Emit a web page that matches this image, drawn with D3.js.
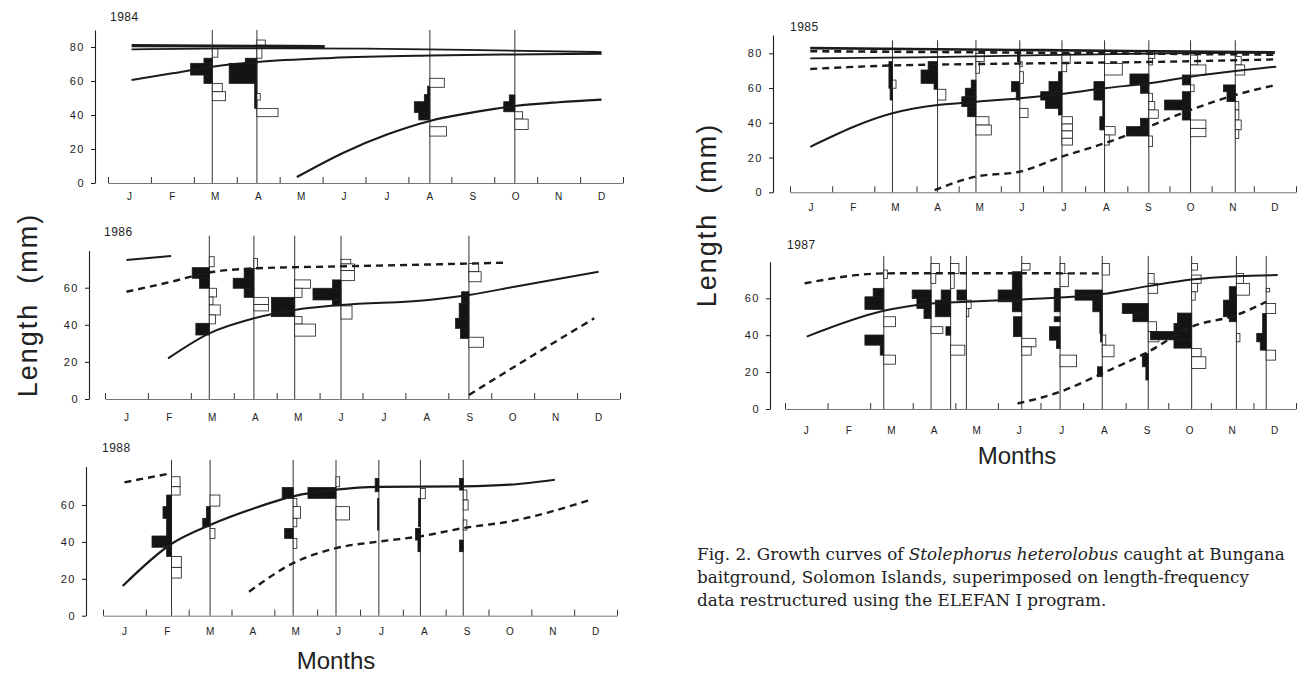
<!DOCTYPE html>
<html>
<head>
<meta charset="utf-8">
<script src="https://cdn.jsdelivr.net/npm/d3@7"></script>
<style>
  body { margin: 0; background: #fff; overflow: hidden; }
  svg text { fill: #222; }
</style>
</head>
<body>
<svg id="fig" width="1299" height="674"></svg>
<script>
// month letters under each axis
const monthLabels = ["J", "F", "M", "A", "M", "J", "J", "A", "S", "O", "N", "D"];
const ticksTo80 = [0, 20, 40, 60, 80];
const ticksTo60 = [0, 20, 40, 60];

// length-frequency samples: m = sample date (months from 1 Jan),
// bins = [low mm, high mm, score]; score > 0 black (left), < 0 white (right)
const hist1984 = [
  { m: 2.43, bins: [[70.4, 73.4, 7.5], [63.5, 70.4, 19.5], [58.6, 63.5, 7.5], [74, 79.2, -5], [53.7, 58.6, -9], [48.4, 53.7, -12]] },
  { m: 3.47, bins: [[70.4, 73.4, 10.5], [58.6, 70.4, 25], [48.8, 58.6, 2], [43.9, 48.8, 2], [80.2, 84.1, -7.5], [73.4, 80.2, -4.5], [48.8, 52.6, -3], [39, 43.9, -19]] },
  { m: 7.5, bins: [[52, 57, 2], [47.8, 52, 5], [41.5, 47.8, 14], [37.1, 41.5, 10], [56.3, 61.6, -13], [27.6, 33.1, -15]] },
  { m: 9.48, bins: [[47.8, 51.8, 5], [41.9, 47.8, 10], [37.6, 41.9, -7], [31.5, 37.6, -12]] }
];
const hist1986 = [
  { m: 2.43, bins: [[65.1, 70.8, 14], [59.7, 65.1, 8], [34.5, 40.8, 11], [71.3, 76.7, -4], [55, 59.7, -6], [50.7, 55, -3], [45.3, 50.7, -9], [40.5, 45.3, -5]] },
  { m: 3.47, bins: [[65.1, 70.4, 8], [59.7, 65.1, 17], [54.8, 59.7, 8], [70.4, 75.8, -3], [51, 54.8, -12], [47.5, 51, -12]] },
  { m: 4.42, bins: [[44.4, 54.8, 19], [59.7, 64.2, -13], [54.8, 59.7, -6], [40.4, 44.4, -6], [33.9, 40.4, -17]] },
  { m: 5.5, bins: [[59.7, 64.2, 7], [53.4, 59.7, 23], [50.2, 53.4, 7], [72.8, 75.3, -8], [69.2, 72.8, -11], [63.8, 69.2, -11], [43.1, 50.2, -9]] },
  { m: 8.48, bins: [[51.6, 57.8, 6], [43.5, 51.6, 8], [38.1, 43.5, 11], [32.7, 38.1, 7], [68.6, 73.1, -8], [63.2, 68.6, -10], [27.9, 33.3, -12]] }
];
const hist1988 = [
  { m: 1.6, bins: [[59.1, 65.4, 4], [52.8, 59.1, 7], [48.2, 52.8, 4], [43.2, 48.2, 4], [37.1, 43.2, 16], [32.1, 37.1, 4], [69.9, 75.3, -7], [65.4, 69.9, -7], [26.2, 32.1, -8], [20.4, 26.2, -8]] },
  { m: 2.5, bins: [[52.8, 59.1, 3], [48.2, 52.8, 6], [59.4, 65.4, -8], [41.9, 47.3, -4]] },
  { m: 4.44, bins: [[63.6, 69.5, 9], [41.9, 47.3, 7], [59.1, 63.6, -3], [52.8, 59.1, -6], [48.2, 52.8, -3], [36.5, 41.9, -3]] },
  { m: 5.44, bins: [[63.6, 69.5, 23], [69.9, 75.3, -3], [51.9, 59.1, -11]] },
  { m: 6.44, bins: [[67.2, 74.4, 3], [55.5, 63.6, 1], [46.4, 55.5, 1]] },
  { m: 7.41, bins: [[48.2, 63.6, 1.5], [41, 47.3, 4], [34.7, 41, 2], [63.4, 69, -4]] },
  { m: 8.41, bins: [[68.1, 74.4, 3], [34.7, 41, 3], [62.7, 68.1, -3], [57.3, 62.7, -4], [46.4, 51.9, -3]] }
];
const hist1985 = [
  { m: 2.43, bins: [[59.9, 75.2, 3], [53.1, 59.9, 2], [59.9, 64.6, -3]] },
  { m: 3.5, bins: [[70.4, 75.2, 8], [62.7, 70.4, 14], [59.3, 62.7, 3], [53.1, 59.3, -7]] },
  { m: 4.41, bins: [[59.9, 64.6, 4], [55, 59.9, 9], [49.3, 55, 12], [43.5, 49.3, 7], [75.2, 80, -7], [68.5, 75.2, -3], [38.7, 43.5, -11], [33, 38.7, -13]] },
  { m: 5.45, bins: [[75.2, 81.9, 2], [57.9, 63.7, 7], [53.1, 57.9, 3], [72.3, 75.2, -2], [62.7, 69.4, -3], [43.1, 48.3, -7]] },
  { m: 6.45, bins: [[63.7, 69.4, 3], [57.9, 63.7, 11], [53.1, 57.9, 18], [48.3, 53.1, 14], [44.5, 48.3, 3], [74.2, 80, -7], [69.4, 74.2, -4], [39.3, 43.5, -9], [35.3, 39.3, -9], [31.1, 35.3, -9], [27.2, 31.1, -9]] },
  { m: 7.46, bins: [[53.1, 63.7, 9], [43.5, 53.1, 1.5], [35.9, 43.5, 4], [67.5, 74.2, -15], [33, 37.8, -9], [27.2, 33, -4]] },
  { m: 8.51, bins: [[61.8, 68.1, 16], [57, 61.8, 7], [37.8, 42.6, 7], [32.4, 37.8, 19], [77.1, 81, -5], [73.3, 77.1, -3], [52.2, 57, -3], [47.4, 52.2, -5], [42.6, 47.4, -8], [26.3, 32.4, -3]] },
  { m: 9.5, bins: [[61.8, 67.5, 7], [53.1, 57.9, 7], [47.4, 53.1, 22], [41.6, 47.4, 7], [73.3, 79, -6], [67.5, 73.3, -13], [57.9, 61.8, -3], [36.8, 41.6, -13], [32, 36.8, -13]] },
  { m: 10.56, bins: [[57.9, 61.8, 10], [52.2, 57.9, 7], [73.3, 78.1, -5], [67.5, 73.3, -8], [47.4, 52.2, -3], [41.6, 47.4, -3], [36, 41.6, -5], [31, 36, -3]] }
];
const hist1987 = [
  { m: 2.32, bins: [[60.8, 65.4, 9], [54, 60.8, 16], [34.6, 40.1, 16], [29.2, 34.6, 3], [70.8, 75.3, -3], [44.6, 50, -10], [24.3, 29.2, -10]] },
  { m: 3.43, bins: [[59.9, 64.5, 16], [54.5, 59.9, 12], [49.1, 54.5, 6], [73.5, 78.9, -7], [68.1, 73.5, -4], [41, 44.6, -10]] },
  { m: 3.89, bins: [[59, 64.5, 8], [50, 59, 13], [40, 44.6, 4], [73.5, 78.9, -7], [65.4, 73.5, -3], [29.2, 34.6, -12]] },
  { m: 4.26, bins: [[59, 64.5, 8], [54.5, 59, -4], [50, 54.5, -2]] },
  { m: 5.56, bins: [[64.5, 74.4, 8], [58.1, 64.5, 20], [52.7, 58.1, 8], [39.2, 50, 7], [75.3, 78.9, -7], [33.7, 38.3, -12], [29.2, 33.7, -8]] },
  { m: 6.46, bins: [[52.7, 65.4, 5], [47.3, 50, 5], [37.3, 44.6, 9], [32.8, 37.3, 3], [73.5, 78.9, -4], [66.3, 73.5, -7], [22.9, 29.2, -14]] },
  { m: 7.45, bins: [[59, 64.5, 23], [52.7, 59, 8], [41, 52.7, 2], [36.4, 41, 1.5], [17.5, 22.9, 4], [72.6, 78.9, -6], [34.6, 40.1, -3], [28.3, 34.6, -10]] },
  { m: 8.53, bins: [[51.8, 57.2, 22], [47.3, 51.8, 13], [22.9, 30.1, 5], [15.7, 22.9, 2], [68.1, 73.5, -5], [62.7, 68.1, -8], [41.9, 47.3, -7], [36.4, 41.9, -9]] },
  { m: 9.55, bins: [[46.4, 52, 12], [42, 46.4, 15], [37.5, 42, 35], [33, 37.5, 15], [75.3, 78.9, -5], [68.1, 72.6, -8], [63.5, 68.1, -5], [59, 63.5, -3], [28.3, 32.8, -8], [22, 28.3, -12]] },
  { m: 10.6, bins: [[59, 66.3, 6], [50, 59, 11], [47.3, 50, 6], [68.1, 73.5, -6], [61.7, 68.1, -11], [36.4, 41, -3]] },
  { m: 11.3, bins: [[41, 51.8, 3], [36.4, 41, 8], [31.9, 36.4, 5], [63.5, 65.4, -3], [51.8, 57.2, -8], [26.5, 31.9, -8]] }
];

// growth curves: [month, length mm]
const c84a = [[0.55, 80.8], [2.5, 80.6], [5.05, 80.2]];
const c84b = [[0.55, 78.6], [3, 79.2], [6, 79], [9, 78], [11.5, 77]];
const c84c = [[0.55, 60.6], [1.5, 64.5], [2.43, 68.4], [3.47, 71.2], [5.2, 73.6], [7.5, 75], [9.5, 75.6], [11.5, 76]];
const c84d = [[4.4, 3.5], [5.5, 18], [6.5, 28.5], [7.5, 36.5], [8.5, 41.5], [9.48, 45.3], [10.5, 47.5], [11.5, 49]];

const c86a = [[0.5, 74.9], [1.54, 77.1]];
const c86b = [[0.5, 57.8], [1.54, 63.2], [2.43, 68.2], [3.47, 70.4], [5.5, 71.5], [8.48, 73], [9.35, 73.5]];
const c86c = [[1.47, 21.9], [2.43, 35.4], [3.47, 43.5], [4.42, 48], [5.5, 50.7], [7.54, 53.4], [8.48, 56.1], [9.54, 60.5], [11.5, 68.6]];
const c86d = [[8.48, 2.2], [9.92, 22.8], [11.4, 43.5]];

const c88a = [[0.5, 72.3], [1.5, 76.8]];
const c88b = [[0.46, 16.1], [1.6, 39], [2.5, 49.2], [3.5, 58], [4.44, 64.7], [5.44, 68.3], [6.44, 69.8], [8.41, 70.1], [9.5, 71], [10.55, 73.7]];
const c88c = [[3.41, 13], [4.44, 28.5], [5.44, 36.6], [6.44, 40.2], [7.41, 43], [8.41, 47.5], [9.5, 51.1], [11.4, 62.9]];

const c85a = [[0.48, 83], [6, 81.8], [11.5, 80.5]];
const c85b = [[0.48, 81.2], [6, 80.3], [11.5, 79.2]];
const c85c = [[0.48, 77.1], [3, 77.6], [6, 79], [9, 80], [11.5, 80.4]];
const c85d = [[0.48, 71], [2.43, 73], [4.4, 73.8], [6.45, 74.4], [8.5, 75], [11.5, 76.5]];
const c85e = [[0.48, 26.2], [2.43, 45.5], [3.5, 50.2], [4.4, 52.1], [5.45, 54.1], [6.44, 56.6], [7.46, 59.9], [8.51, 62.7], [9.5, 66.5], [11.53, 72.3]];
const c85f = [[3.43, 1.3], [4.4, 9], [5.45, 11.9], [6.44, 20.5], [7.46, 28.2], [8.51, 37.8], [9.5, 47.4], [10.56, 56], [11.53, 61.8]];

const c87a = [[0.46, 68.1], [2.32, 73.5], [3.43, 73.6], [7.44, 73.5]];
const c87b = [[0.51, 39.2], [2.32, 53.2], [3.43, 57.2], [4.26, 58.1], [5.56, 59.4], [7.45, 62.3], [8.53, 66.6], [9.55, 70.2], [10.6, 72], [11.57, 72.6]];
const c87c = [[5.46, 3], [6.46, 9.3], [7.45, 19.3], [8.53, 31], [9.55, 44.6], [10.6, 50.9], [11.3, 58.1]];

// panel frames (pixel layout of the scanned figure)
const panels = [
  { year: "1984", x0: 108, x1: 623, y0: 183, ppm: 1.7, axisX: 95, axisTop: 90, lineTop: 90, yTicks: ticksTo80,
    monthY: 197, yearX: 110, yearY: 21, barK: 1.11, hist: hist1984,
    curves: [{ d: c84a, w: 3.2 }, { d: c84b, w: 1.8 }, { d: c84c, w: 2 }, { d: c84d, w: 2.2 }] },
  { year: "1986", x0: 105, x1: 620, y0: 399, ppm: 1.855, axisX: 89, axisTop: 80, lineTop: 88, yTicks: ticksTo60,
    monthY: 418, yearX: 104, yearY: 236, barK: 1.22, hist: hist1986,
    curves: [{ d: c86a, w: 2 }, { d: c86b, w: 2.4, dash: true }, { d: c86c, w: 2 }, { d: c86d, w: 2.4, dash: true }] },
  { year: "1988", x0: 103, x1: 617, y0: 615.7, ppm: 1.845, axisX: 86, axisTop: 80.8, lineTop: 84.5, yTicks: ticksTo60,
    monthY: 632, yearX: 102, yearY: 452, barK: 1.22, hist: hist1988,
    curves: [{ d: c88a, w: 2.4, dash: true }, { d: c88b, w: 2.2 }, { d: c88c, w: 2.4, dash: true }] },
  { year: "1985", x0: 790, x1: 1296, y0: 192.3, ppm: 1.7375, axisX: 773, axisTop: 90.5, lineTop: 87.5, yTicks: ticksTo80,
    monthY: 208, yearX: 790, yearY: 31, barK: 1.18, hist: hist1985,
    curves: [{ d: c85a, w: 2.6 }, { d: c85b, w: 2.6, dash: true }, { d: c85c, w: 1.8 }, { d: c85d, w: 2.4, dash: true },
             { d: c85e, w: 2 }, { d: c85f, w: 2.4, dash: true }] },
  { year: "1987", x0: 785, x1: 1296, y0: 409, ppm: 1.845, axisX: 770, axisTop: 79.8, lineTop: 83, yTicks: ticksTo60,
    monthY: 431, yearX: 787, yearY: 249, barK: 1.18, hist: hist1987,
    curves: [{ d: c87a, w: 2.4, dash: true }, { d: c87b, w: 2 }, { d: c87c, w: 2.4, dash: true }] }
];

const svg = d3.select("#fig");
const ink = "#1b1b1b";

panels.forEach(p => {
  const g = svg.append("g").attr("class", "panel");
  const x = d3.scaleLinear().domain([0, 12]).range([p.x0, p.x1]);
  const y = d3.scaleLinear().domain([0, p.axisTop]).range([p.y0, p.y0 - p.axisTop * p.ppm]);
  const w = d3.scaleLinear().domain([0, 10]).range([0, 10 * p.barK]);
  const xb = d3.scaleBand().domain(d3.range(12)).range([p.x0, p.x1]);

  // y axis
  const ya = g.append("g").attr("transform", `translate(${p.axisX},0)`)
    .call(d3.axisLeft(y).tickValues(p.yTicks).tickSize(4).tickSizeOuter(0).tickPadding(6));
  ya.select(".domain").attr("stroke", ink).attr("stroke-width", 1.1);
  ya.selectAll(".tick line").attr("stroke", ink);
  ya.selectAll("text").attr("font-family", "Liberation Sans, Arial, sans-serif")
    .attr("font-size", 11).attr("letter-spacing", 1.5).attr("fill", "#222");

  // baseline with month ticks pointing up
  const xa = g.append("g").attr("transform", `translate(0,${p.y0})`)
    .call(d3.axisBottom(x).tickValues(d3.range(13)).tickSize(-6).tickSizeOuter(0).tickFormat(""));
  xa.select(".domain").attr("stroke", "#777").attr("stroke-width", 1);
  xa.selectAll(".tick line").attr("stroke", "#333");

  // month letters
  const ml = g.append("g").attr("transform", `translate(0,${p.y0})`)
    .call(d3.axisBottom(xb).tickSize(0).tickPadding(p.monthY - p.y0 - 4).tickFormat(i => monthLabels[i]));
  ml.select(".domain").remove();
  ml.selectAll("text").attr("font-family", "Liberation Sans, Arial, sans-serif")
    .attr("font-size", 10).attr("fill", "#222");

  // sample lines
  g.append("g").selectAll("line").data(p.hist).join("line")
    .attr("x1", d => x(d.m)).attr("x2", d => x(d.m))
    .attr("y1", y(0)).attr("y2", y(p.lineTop))
    .attr("stroke", ink).attr("stroke-width", 0.9);

  // histogram bars
  const bars = p.hist.flatMap(s => s.bins.map(b => ({ m: s.m, lo: b[0], hi: b[1], f: b[2] })));
  g.append("g").selectAll("rect").data(bars).join("rect")
    .attr("x", d => d.f > 0 ? x(d.m) - w(d.f) : x(d.m))
    .attr("width", d => w(Math.abs(d.f)))
    .attr("y", d => y(d.hi))
    .attr("height", d => y(d.lo) - y(d.hi))
    .attr("fill", d => d.f > 0 ? "#141414" : "#fff")
    .attr("stroke", ink).attr("stroke-width", 0.8);

  // growth curves
  const line = d3.line().x(d => x(d[0])).y(d => y(d[1])).curve(d3.curveMonotoneX);
  g.append("g").selectAll("path").data(p.curves).join("path")
    .attr("d", c => line(c.d))
    .attr("fill", "none")
    .attr("stroke", ink)
    .attr("stroke-width", c => c.w)
    .attr("stroke-dasharray", c => c.dash ? "7,5" : null)
    .attr("stroke-linecap", "butt");

  // year tag
  g.append("text").attr("x", p.yearX).attr("y", p.yearY)
    .attr("font-family", "Liberation Sans, Arial, sans-serif")
    .attr("font-size", 12).attr("letter-spacing", 0.5)
    .text(p.year);
});

// shared axis titles
const titleFont = "Liberation Sans, Arial, sans-serif";
[[28, 305], [707, 215]].forEach(([cx, cy]) => {
  svg.append("text")
    .attr("transform", `translate(${cx},${cy}) rotate(-90)`)
    .attr("text-anchor", "middle").attr("dominant-baseline", "central")
    .attr("font-family", titleFont).attr("font-size", 27).attr("letter-spacing", 2)
    .style("white-space", "pre")
    .text("Length  (mm)");
});
[[336, 660], [1017, 455]].forEach(([cx, cy]) => {
  svg.append("text")
    .attr("x", cx).attr("y", cy)
    .attr("text-anchor", "middle").attr("dominant-baseline", "central")
    .attr("font-family", titleFont).attr("font-size", 24)
    .text("Months");
});

// figure caption
const cap = svg.append("g")
  .attr("font-family", "DejaVu Serif, serif").attr("font-size", 16.8).attr("fill", "#222");
const l1 = cap.append("text").attr("x", 697).attr("y", 560);
l1.append("tspan").text("Fig. 2. Growth curves of ");
l1.append("tspan").attr("font-style", "italic").text("Stolephorus heterolobus");
l1.append("tspan").text(" caught at Bungana");
cap.append("text").attr("x", 697).attr("y", 583).text("baitground, Solomon Islands, superimposed on length-frequency");
cap.append("text").attr("x", 697).attr("y", 606).text("data restructured using the ELEFAN I program.");
</script>
</body>
</html>
